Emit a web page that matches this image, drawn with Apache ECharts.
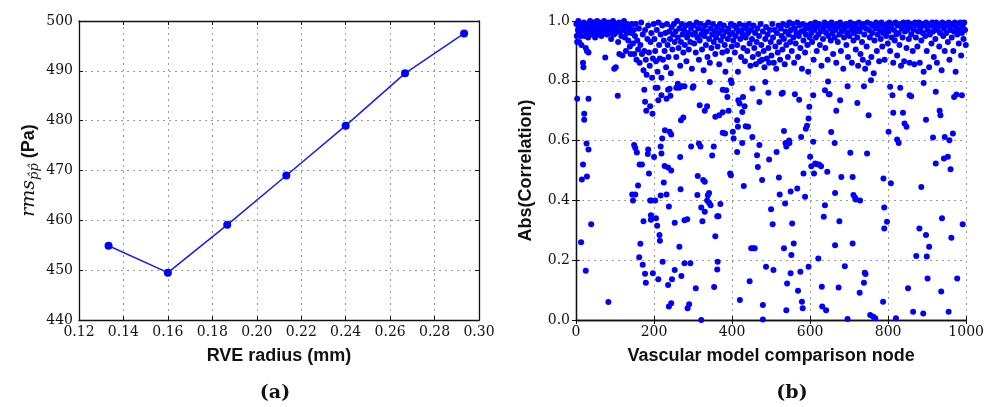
<!DOCTYPE html>
<html><head><meta charset="utf-8">
<script src="https://cdn.jsdelivr.net/npm/echarts@6/dist/echarts.min.js"></script>
<style>html,body{margin:0;padding:0;background:#fff}#c{width:987px;height:407px}</style>
</head><body><div id="c"></div>
<script>
// Panel (a)
const rveRadius = [0.1333, 0.16, 0.1867, 0.2133, 0.24, 0.2667, 0.2933];
const rmsPa = [454.9, 449.5, 459.1, 469.0, 479.0, 489.5, 497.5];
const aXTicks = [0.12, 0.14, 0.16, 0.18, 0.20, 0.22, 0.24, 0.26, 0.28, 0.30];
const aYTicks = [440, 450, 460, 470, 480, 490, 500];
// Panel (b) — dense band near 1.0
const corrTop = [
[1,0.99],[2,0.95],[3,0.93],[5,0.97],[6,1.0],[8,0.93],[9,0.96],[11,0.985],[12,0.95],[14,0.92],[15,0.99],[17,0.97],[18,0.86],[19,0.845],[20,0.995],[22,0.95],[24,0.98],[25,0.91],[26,0.965],[28,0.9],[29,0.99],[31,0.945],[32,0.895],[33,0.975],[35,0.96],[36,1.0],[38,0.985],[40,0.955],[41,0.99],[43,0.97],[45,0.995],[46,0.96],[48,0.98],[49,0.945],
[51,0.99],[53,0.97],[54,1.0],[56,0.955],[58,0.985],[60,0.965],[61,0.995],[63,0.975],[65,0.95],[66,0.99],[68,0.98],[70,0.96],[72,1.0],[74,0.975],[75,0.878],[77,0.99],[79,0.955],[80,0.985],[82,0.97],[84,0.995],[86,0.96],[88,0.98],[90,0.94],[91,0.99],[93,0.97],[95,1.0],[97,0.955],[98,0.84],[99,0.985],
[101,0.96],[102,0.845],[104,0.99],[106,0.975],[108,0.93],[110,0.995],[111,0.89],[112,0.965],[114,0.985],[116,0.95],[118,0.99],[119,0.885],[121,0.97],[123,1.0],[125,0.945],[127,0.98],[128,0.9],[130,0.96],[132,0.99],[134,0.935],[136,0.975],[138,0.915],[140,0.89],[142,0.96],[144,0.99],[146,0.925],[148,0.97],[149,0.89],
[151,0.95],[153,0.99],[155,0.87],[157,0.935],[159,0.905],[161,0.975],[163,0.86],[165,0.92],[167,0.995],[169,0.89],[171,0.955],[173,0.835],[175,0.9],[177,0.97],[179,0.87],[181,0.82],[183,0.94],[185,0.985],[187,0.895],[189,0.85],[191,0.93],[193,0.96],[195,0.81],[197,0.875],[199,0.99],
[201,0.94],[203,0.9],[205,0.865],[207,0.97],[209,0.83],[211,0.995],[213,0.92],[215,0.875],[217,0.955],[219,0.81],[221,0.985],[223,0.87],[225,0.935],[227,0.9],[229,0.96],[231,0.845],[233,0.99],[235,0.92],[237,0.88],[239,0.965],[241,0.94],[243,0.825],[245,0.98],[247,0.905],[249,0.955],
[251,0.99],[253,0.93],[255,0.965],[257,0.88],[259,1.0],[261,0.945],[263,0.91],[265,0.975],[267,0.85],[269,0.93],[271,0.99],[273,0.955],[275,0.895],[277,0.97],[279,0.92],[281,0.985],[283,0.865],[285,0.945],[287,0.96],[289,0.905],[291,0.99],[293,0.93],[295,0.975],[297,0.84],[299,0.955],
[301,0.985],[303,0.925],[305,0.96],[307,0.895],[309,0.995],[311,0.945],[313,0.975],[315,0.87],[317,0.935],[319,0.99],[321,0.955],[323,0.905],[325,0.97],[327,0.835],[329,0.95],[331,0.985],[333,0.92],[335,0.965],[337,0.88],[339,0.995],[341,0.94],[343,0.86],[345,0.975],[347,0.91],[349,0.955],
[351,0.99],[353,0.93],[355,0.965],[357,0.89],[359,0.945],[361,0.98],[363,0.915],[365,0.96],[367,0.855],[369,0.99],[371,0.935],[373,0.97],[375,0.895],[377,0.95],[379,0.985],[381,0.92],[383,0.83],[385,0.965],[387,0.9],[389,0.94],[391,0.975],[393,0.87],[395,0.955],[397,0.99],[399,0.915],
[401,0.96],[403,0.935],[405,0.985],[407,0.895],[409,0.95],[411,0.975],[413,0.92],[415,0.83],[417,0.965],[419,0.99],[421,0.94],[423,0.88],[425,0.97],[427,0.955],[429,0.91],[431,0.985],[433,0.865],[435,0.945],[437,0.975],[439,0.9],[441,0.96],[443,0.99],[445,0.925],[447,0.85],[449,0.97],
[451,0.94],[453,0.88],[455,0.985],[457,0.91],[459,0.96],[461,0.855],[463,0.93],[465,0.975],[467,0.89],[469,0.95],[471,0.865],[473,0.99],[475,0.92],[477,0.87],[479,0.965],[481,0.9],[483,0.845],[485,0.94],[487,0.98],[489,0.875],[491,0.955],[493,0.91],[495,0.86],[497,0.97],[499,0.93],
[501,0.885],[503,0.99],[505,0.945],[507,0.86],[509,0.97],[511,0.915],[513,0.84],[515,0.96],[517,0.895],[519,0.985],[521,0.93],[523,0.87],[525,0.975],[527,0.95],[529,0.905],[531,0.99],[533,0.94],[535,0.855],[537,0.965],[539,0.92],[541,0.985],[543,0.88],[545,0.955],[547,0.995],[549,0.93],
[551,0.97],[553,0.9],[555,0.99],[557,0.945],[559,0.86],[561,0.975],[563,0.925],[565,0.96],[567,0.995],[569,0.88],[571,0.95],[573,0.985],[575,0.91],[577,0.965],[579,0.84],[581,0.99],[583,0.935],[585,0.97],[587,0.895],[589,0.955],[591,0.985],[593,0.92],[595,0.83],[597,0.975],[599,0.945],
[601,0.99],[603,0.96],[605,0.93],[607,0.985],[609,0.87],[611,0.97],[613,0.995],[615,0.945],[617,0.9],[619,0.98],[621,0.955],[623,0.99],[625,0.92],[627,0.965],[629,0.85],[631,0.985],[633,0.94],[635,0.975],[637,0.995],[639,0.91],[641,0.96],[643,0.985],[645,0.87],[647,0.95],[649,0.99],
[651,0.975],[653,0.935],[655,0.995],[657,0.96],[659,0.89],[661,0.985],[663,0.945],[665,0.97],[667,0.86],[669,0.99],[671,0.93],[673,0.98],[675,0.955],[677,0.995],[679,0.9],[681,0.965],[683,0.985],[685,0.84],[687,0.945],[689,0.975],[691,0.99],[693,0.92],[695,0.96],[697,0.88],[699,0.985],
[701,0.95],[703,0.995],[705,0.97],[707,0.86],[709,0.985],[711,0.935],[713,0.96],[715,0.99],[717,0.905],[719,0.975],[721,0.945],[723,0.85],[725,0.995],[727,0.965],[729,0.89],[731,0.98],[733,0.93],[735,0.87],[737,0.99],[739,0.955],[741,0.84],[743,0.975],[745,0.915],[747,0.995],[749,0.86],
[751,0.97],[753,0.945],[755,0.99],[757,0.88],[759,0.96],[761,0.985],[763,0.825],[765,0.935],[767,0.975],[769,0.995],[771,0.9],[773,0.955],[775,0.985],[777,0.865],[779,0.97],[781,0.94],[783,0.995],[785,0.915],[787,0.96],[789,0.985],[791,0.87],[793,0.975],[795,0.95],[797,0.99],[799,0.925],
[801,0.965],[803,0.995],[805,0.9],[807,0.98],[809,0.945],[811,0.99],[813,0.86],[815,0.97],[817,0.935],[819,0.995],[821,0.955],[823,0.885],[825,0.985],[827,0.96],[829,0.92],[831,0.99],[833,0.85],[835,0.975],[837,0.945],[839,0.995],[841,0.865],[843,0.965],[845,0.985],[847,0.91],[849,0.97],
[851,0.995],[853,0.94],[855,0.86],[857,0.98],[859,0.955],[861,0.99],[863,0.9],[865,0.97],[867,0.855],[869,0.995],[871,0.945],[873,0.985],[875,0.915],[877,0.965],[879,0.995],[881,0.86],[883,0.975],[885,0.935],[887,0.99],[889,0.96],[891,0.83],[893,0.985],[895,0.95],[897,0.995],[899,0.9],
[901,0.97],[903,0.99],[905,0.845],[907,0.955],[909,0.985],[911,0.925],[913,0.995],[915,0.965],[917,0.88],[919,0.98],[921,0.94],[923,0.995],[925,0.86],[927,0.97],[929,0.99],[931,0.915],[933,0.96],[935,0.985],[937,0.835],[939,0.995],[941,0.95],[943,0.975],[945,0.9],[947,0.99],[949,0.96],
[951,0.985],[953,0.93],[955,0.995],[957,0.87],[959,0.97],[961,0.99],[963,0.945],[965,0.985],[967,0.9],[969,0.965],[971,0.995],[973,0.83],[975,0.98],[977,0.955],[979,0.99],[981,0.925],[983,0.97],[985,0.995],[987,0.885],[989,0.96],[991,0.985],[993,0.94],[995,0.995],[997,0.97],[999,0.92]
];
// Panel (b) — sparse points below ~0.8
const corrLow = [
[3,0.74],[13,0.26],[15,0.47],[18,0.52],[21,0.69],[21,0.67],[25,0.165],[28,0.48],[27,0.59],[32,0.57],[32,0.74],[39,0.32],[83,0.06],[107,0.75],
[149,0.585],[152,0.575],[156,0.56],[146,0.40],[152,0.42],[144,0.42],[159,0.45],[163,0.52],[169,0.52],[165,0.255],[162,0.21],[171,0.185],[173,0.33],[177,0.155],[179,0.125],
[190,0.40],[193,0.40],[192,0.35],[192,0.335],[197,0.156],[200,0.545],[184,0.555],[187,0.49],[185,0.57],[175,0.77],[180,0.70],[177,0.73],[190,0.715],[196,0.69],[203,0.40],[205,0.34],
[208,0.315],[211,0.136],[214,0.284],[215,0.265],[217,0.416],[217,0.58],[219,0.557],[221,0.607],[222,0.195],[225,0.46],[227,0.515],[228,0.635],[232,0.42],[236,0.51],[236,0.117],
[238,0.38],[238,0.045],[244,0.056],[244,0.50],[240,0.63],[244,0.62],[246,0.136],[253,0.325],[253,0.167],[265,0.245],[268,0.437],[267,0.545],[270,0.147],[269,0.668],[275,0.677],
[278,0.334],[285,0.337],[286,0.039],[290,0.053],[293,0.19],[278,0.19],[307,0.106],[311,0.418],[312,0.482],[321,0.0],[321,0.376],[324,0.33],[326,0.468],[330,0.462],[330,0.362],
[336,0.40],[338,0.417],[341,0.425],[341,0.392],[345,0.384],[357,0.28],[354,0.11],[362,0.347],[365,0.347],[363,0.195],[362,0.169],[370,0.388],[349,0.55],[353,0.58],[315,0.59],
[319,0.58],[295,0.58],[317,0.718],[330,0.70],[336,0.715],[357,0.68],[367,0.685],[376,0.626],[382,0.624],[376,0.695],[391,0.70],[395,0.49],[397,0.484],
[402,0.63],[404,0.607],[413,0.562],[415,0.646],[413,0.668],[420,0.067],[430,0.448],[426,0.592],[435,0.648],[441,0.646],[445,0.13],[449,0.24],[454,0.24],[458,0.24],[452,0.612],
[464,0.551],[466,0.512],[470,0.585],[477,0.468],[479,0.05],[479,0.002],[487,0.178],[493,0.76],[495,0.537],[500,0.37],[504,0.32],[506,0.167],[514,0.562],[520,0.477],[522,0.42],
[527,0.757],[530,0.76],[533,0.632],[533,0.24],[536,0.39],[537,0.592],[539,0.58],[539,0.033],[541,0.122],[546,0.6],[547,0.592],[550,0.43],[550,0.156],[552,0.217],[554,0.323],
[558,0.256],[561,0.755],[567,0.44],[569,0.098],[572,0.737],[575,0.161],[577,0.612],[579,0.061],[583,0.49],[581,0.039],[587,0.412],[589,0.64],[592,0.65],[596,0.178],[600,0.546],
[596,0.674],[598,0.713],
[603,0.514],[608,0.596],[610,0.49],[613,0.523],[617,0.521],[621,0.206],[623,0.52],[628,0.514],[630,0.111],[631,0.045],[635,0.345],[638,0.384],[641,0.033],[644,0.496],[646,0.798],
[654,0.629],[663,0.592],[664,0.425],[664,0.25],[667,0.70],[673,0.109],[675,0.33],[680,0.478],[689,0.18],[696,0.003],[703,0.559],[709,0.256],[709,0.478],[711,0.418],[715,0.41],
[717,0.403],[721,0.726],[728,0.40],[727,0.091],[738,0.125],[740,0.158],[742,0.154],[746,0.557],[750,0.685],[754,0.017],[762,0.011],[767,0.006],[787,0.061],[788,0.473],[790,0.376],
[790,0.306],[797,0.329],[801,0.63],
[807,0.457],[813,0.693],[820,0.006],[823,0.604],[827,0.592],[838,0.693],[842,0.657],[847,0.646],[851,0.106],[859,0.748],[864,0.028],[872,0.214],[880,0.306],[885,0.445],[890,0.022],
[897,0.284],[899,0.212],[901,0.139],[905,0.245],[897,0.67],[915,0.61],[922,0.523],[932,0.70],[934,0.685],[936,0.095],[938,0.34],[943,0.54],[945,0.612],[953,0.546],[955,0.028],
[957,0.601],[960,0.504],[962,0.275],[966,0.624],[969,0.746],[975,0.754],[977,0.139],[989,0.752],[991,0.32],
[416,0.735],[419,0.724],[426,0.696],[428,0.746],[432,0.715],[452,0.774],[470,0.729],[485,0.796],
[204,0.777],[209,0.777],[211,0.735],[219,0.752],[232,0.74],[236,0.77],[240,0.773],[242,0.75],[257,0.777],[261,0.79],[265,0.777],[272,0.782],[278,0.782],[299,0.777],[301,0.782],
[343,0.796],[376,0.77],[385,0.768],[388,0.746],[397,0.802],[399,0.793],
[608,0.752],[638,0.768],[648,0.755],[650,0.755],[677,0.735],[696,0.782],[738,0.782],[756,0.802],
[805,0.78],[811,0.752],[831,0.777],[855,0.752],[891,0.793],[922,0.763]
];
const bXTicks = [0, 200, 400, 600, 800, 1000];
const bYTicks = [0.0, 0.2, 0.4, 0.6, 0.8, 1.0];

const chart = echarts.init(document.getElementById('c'));
const tickFont = {fontFamily: 'DejaVu Serif', fontSize: 14, color: '#111'};
const nameFont = {fontFamily: 'Liberation Sans, Arial, sans-serif', fontSize: 18, fontWeight: 'bold', color: '#111'};
const lineBlack = {show: true, lineStyle: {color: '#111', width: 1.3}};
const gridLine = {show: true, lineStyle: {color: '#9a9a9a', width: 1, type: [2, 4]}};
const tick = {show: true, inside: true, length: 4, lineStyle: {color: '#111'}};

function mainX(gi, min, max, interval, fmt, name) {
  return {type: 'value', gridIndex: gi, min, max, interval, position: 'bottom',
    axisLine: lineBlack, axisTick: tick, splitLine: gridLine,
    axisLabel: Object.assign({margin: 5, formatter: fmt}, tickFont),
    name, nameLocation: 'middle', nameGap: 27, nameTextStyle: nameFont};
}
function sideX(gi, min, max, interval) {
  return {type: 'value', gridIndex: gi, min, max, interval, position: 'top',
    axisLine: lineBlack, axisTick: tick, splitLine: {show: false}, axisLabel: {show: false}};
}
function mainY(gi, min, max, interval, fmt, name, gap, rich) {
  return {type: 'value', gridIndex: gi, min, max, interval, position: 'left',
    axisLine: lineBlack, axisTick: tick, splitLine: gridLine,
    axisLabel: Object.assign({margin: 6, formatter: fmt}, tickFont),
    name, nameLocation: 'middle', nameGap: gap, nameRotate: 90,
    nameTextStyle: Object.assign({}, nameFont, rich ? {rich} : {})};
}
function sideY(gi, min, max, interval) {
  return {type: 'value', gridIndex: gi, min, max, interval, position: 'right',
    axisLine: lineBlack, axisTick: tick, splitLine: {show: false}, axisLabel: {show: false}};
}

const aX = aXTicks, aY = aYTicks, bX = bXTicks, bY = bYTicks;
chart.setOption({
  animation: false,
  backgroundColor: '#fff',
  title: [
    {text: '(a)', left: 270, top: 379, textAlign: 'center', textStyle: {fontFamily: 'DejaVu Serif', fontSize: 19, fontWeight: 'bold', color: '#111'}},
    {text: '(b)', left: 787, top: 379, textAlign: 'center', textStyle: {fontFamily: 'DejaVu Serif', fontSize: 19, fontWeight: 'bold', color: '#111'}}
  ],
  grid: [
    {left: 79, top: 21, width: 400, height: 299},
    {left: 576, top: 21, width: 398, height: 299}
  ],
  xAxis: [
    mainX(0, aX[0], aX[aX.length - 1], 0.02, v => v.toFixed(2), 'RVE radius (mm)'),
    sideX(0, aX[0], aX[aX.length - 1], 0.02),
    mainX(1, bX[0], bX[bX.length - 1], 200, v => String(v), 'Vascular model comparison node'),
    sideX(1, bX[0], bX[bX.length - 1], 200)
  ],
  yAxis: [
    mainY(0, aY[0], aY[aY.length - 1], 10, v => String(v), '{m|rms}{s|p̂p̂} (Pa)', 38,
      {m: {fontFamily: 'DejaVu Serif', fontStyle: 'italic', fontWeight: 'normal', fontSize: 19, color: '#111'},
       s: {fontFamily: 'DejaVu Serif', fontStyle: 'italic', fontWeight: 'normal', fontSize: 13, color: '#111', padding: [10, 0, 0, 0]}}),
    sideY(0, aY[0], aY[aY.length - 1], 10),
    mainY(1, bY[0], bY[bY.length - 1], 0.2, v => v.toFixed(1), 'Abs(Correlation)', 41),
    sideY(1, bY[0], bY[bY.length - 1], 0.2)
  ],
  series: [
    {type: 'line', xAxisIndex: 0, yAxisIndex: 0, data: rveRadius.map((x, i) => [x, rmsPa[i]]),
     symbol: 'circle', symbolSize: 8, lineStyle: {color: '#1a1aff', width: 1.5},
     itemStyle: {color: '#0000ff'}},
    {type: 'scatter', xAxisIndex: 2, yAxisIndex: 2, data: corrTop.concat(corrLow),
     symbolSize: 6, itemStyle: {color: '#0000ff', opacity: 1}}
  ]
});
</script></body></html>
